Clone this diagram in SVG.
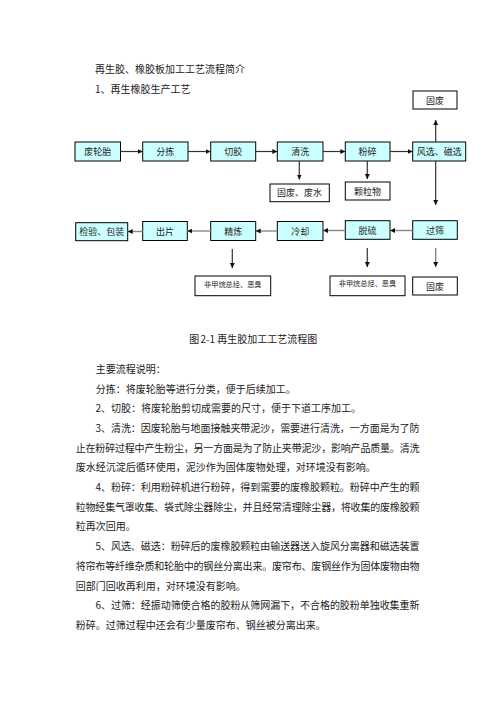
<svg xmlns="http://www.w3.org/2000/svg" width="496" height="702" viewBox="0 0 496 702">
<style>
text{font-family:"Noto Sans CJK SC","Noto Sans",sans-serif;fill:#222}
.t{font-size:10px}
.bx{fill:#ccffff;stroke:#000;stroke-width:1}
.wb{fill:#fff;stroke:#000;stroke-width:1}
.lb{font-size:9px;text-anchor:middle}
.sm{font-size:7.2px;text-anchor:middle}
.c1{stroke:#333;stroke-width:1.2;fill:none}
.c2{stroke:#888;stroke-width:1.4;fill:none}
</style>
<defs>
<marker id="ah" markerWidth="6" markerHeight="6" refX="5" refY="3" orient="auto" markerUnits="userSpaceOnUse">
<path d="M0,0.5 L5,3 L0,5.5 Z" fill="#111"/>
</marker>
</defs>
<rect width="496" height="702" fill="#fff"/>
<text class="t" x="95" y="73">再生胶、橡胶板加工工艺流程简介</text>
<text class="t" x="95" y="93">1、再生橡胶生产工艺</text>

<g id="n-guf1"><rect class="wb" x="413" y="91" width="44" height="18"/><text class="lb" x="435" y="103.5">固废</text></g>
<g id="n-feiluntai"><rect class="bx" x="75" y="142" width="45.5" height="19"/><text class="lb" x="97.7" y="155">废轮胎</text></g>
<g id="n-fenjian"><rect class="bx" x="142.7" y="142" width="45.3" height="19"/><text class="lb" x="165.3" y="155">分拣</text></g>
<g id="n-qiejiao"><rect class="bx" x="210.7" y="142" width="45" height="19"/><text class="lb" x="233.2" y="155">切胶</text></g>
<g id="n-qingxi"><rect class="bx" x="277.3" y="142" width="45.7" height="19"/><text class="lb" x="300.2" y="155">清洗</text></g>
<g id="n-fensui"><rect class="bx" x="345.3" y="142" width="44.7" height="19"/><text class="lb" x="367.6" y="155">粉碎</text></g>
<g id="n-fengxuan"><rect class="bx" x="412.7" y="142" width="53" height="19"/><text class="lb" x="439.2" y="155">风选、磁选</text></g>
<g id="n-gufeishui"><rect class="wb" x="270" y="184" width="59.3" height="17.7"/><text class="lb" x="299.6" y="196">固废、废水</text></g>
<g id="n-keliwu"><rect class="wb" x="345.3" y="182" width="44.7" height="18"/><text class="lb" x="367.6" y="194.5">颗粒物</text></g>

<g id="n-jianyan"><rect class="bx" x="75.7" y="222.7" width="52" height="18"/><text class="lb" x="101.7" y="235">检验、包装</text></g>
<g id="n-chupian"><rect class="bx" x="142.7" y="221.5" width="44.6" height="19"/><text class="lb" x="165" y="234.5">出片</text></g>
<g id="n-jinglian"><rect class="bx" x="210.7" y="221.5" width="45" height="19"/><text class="lb" x="233.2" y="234.5">精炼</text></g>
<g id="n-lengque"><rect class="bx" x="277.3" y="221.5" width="45.7" height="19"/><text class="lb" x="300.2" y="234.5">冷却</text></g>
<g id="n-tuoliu"><rect class="bx" x="345.3" y="220.7" width="44.7" height="18.6"/><text class="lb" x="367.6" y="233.5">脱硫</text></g>
<g id="n-guoshai"><rect class="bx" x="412.7" y="220.7" width="44.6" height="18.6"/><text class="lb" x="435" y="233.5">过筛</text></g>
<g id="n-voc1"><rect class="wb" x="195" y="276" width="75.7" height="19.7"/><text class="sm" x="232.8" y="287">非甲烷总烃、恶臭</text></g>
<g id="n-voc2"><rect class="wb" x="330" y="276" width="75" height="19.7"/><text class="sm" x="367.5" y="286">非甲烷总烃、恶臭</text></g>
<g id="n-guf2"><rect class="wb" x="412.7" y="277" width="44.6" height="18"/><text class="lb" x="435" y="289.5">固废</text></g>

<g id="connectors">
<path class="c1" d="M120.5,151.5 H142.7" marker-end="url(#ah)"/>
<path class="c1" d="M188,151.5 H210.7" marker-end="url(#ah)"/>
<path class="c1" d="M255.7,151.5 H277.3" marker-end="url(#ah)"/>
<path class="c1" d="M323,151.5 H345.3" marker-end="url(#ah)"/>
<path class="c1" d="M390,151.5 H412.7" marker-end="url(#ah)"/>
<path class="c1" d="M435.7,142 V120" marker-end="url(#ah)"/>
<path class="c1" d="M435.7,161 V205" marker-end="url(#ah)"/>
<path class="c1" d="M299.3,161 V179.5" marker-end="url(#ah)"/>
<path class="c1" d="M367.3,161 V179" marker-end="url(#ah)"/>
<path class="c2" d="M412.7,230.5 H390" marker-end="url(#ah)"/>
<path class="c2" d="M345.3,230.5 H323" marker-end="url(#ah)"/>
<path class="c2" d="M277.3,231 H255.7" marker-end="url(#ah)"/>
<path class="c2" d="M210.7,231 H187.3" marker-end="url(#ah)"/>
<path class="c2" d="M142.7,231.5 H127.7" marker-end="url(#ah)"/>
<path class="c1" d="M232.3,249 V268" marker-end="url(#ah)"/>
<path class="c1" d="M367.3,248 V267" marker-end="url(#ah)"/>
<path class="c2" d="M435.7,248 V267" marker-end="url(#ah)"/>
</g>

<text class="t" x="189.3" y="343">图</text>
<text class="t" x="200.5" y="343">2-1</text>
<text class="t" x="217.3" y="343">再生胶加工工艺流程图</text>

<text class="t" x="95.7" y="372.8">主要流程说明：</text>
<text class="t" x="95.7" y="392.5">分拣：将废轮胎等进行分类，便于后续加工。</text>
<text class="t" x="95.5" y="412.2">2、切胶：将废轮胎剪切成需要的尺寸，便于下道工序加工。</text>
<text class="t" x="95.5" y="431.9" textLength="324" lengthAdjust="spacing">3、清洗：因废轮胎与地面接触夹带泥沙，需要进行清洗，一方面是为了防</text>
<text class="t" x="75.7" y="451.6" textLength="343.8" lengthAdjust="spacing">止在粉碎过程中产生粉尘，另一方面是为了防止夹带泥沙，影响产品质量。清洗</text>
<text class="t" x="75.7" y="471.3">废水经沉淀后循环使用，泥沙作为固体废物处理，对环境没有影响。</text>
<text class="t" x="95.5" y="491" textLength="324" lengthAdjust="spacing">4、粉碎：利用粉碎机进行粉碎，得到需要的废橡胶颗粒。粉碎中产生的颗</text>
<text class="t" x="75.7" y="510.7" textLength="343.8" lengthAdjust="spacing">粒物经集气罩收集、袋式除尘器除尘，并且经常清理除尘器，将收集的废橡胶颗</text>
<text class="t" x="75.7" y="530.4">粒再次回用。</text>
<text class="t" x="95.5" y="550.1" textLength="324" lengthAdjust="spacing">5、风选、磁选：粉碎后的废橡胶颗粒由输送器送入旋风分离器和磁选装置</text>
<text class="t" x="75.7" y="569.8" textLength="343.8" lengthAdjust="spacing">将帘布等纤维杂质和轮胎中的钢丝分离出来。废帘布、废钢丝作为固体废物由物</text>
<text class="t" x="75.7" y="589.5">回部门回收再利用，对环境没有影响。</text>
<text class="t" x="95.5" y="609.2" textLength="324" lengthAdjust="spacing">6、过筛：经振动筛使合格的胶粉从筛网漏下，不合格的胶粉单独收集重新</text>
<text class="t" x="75.7" y="628.9">粉碎。过筛过程中还会有少量废帘布、钢丝被分离出来。</text>
</svg>
